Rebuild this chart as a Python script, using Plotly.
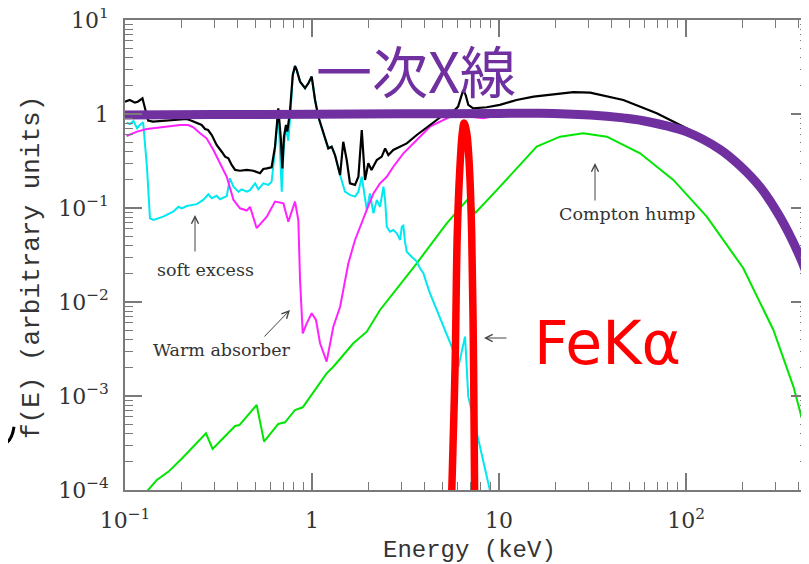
import plotly.graph_objects as go

# ---------------- data (energy in keV, f(E) arbitrary units) ----------------
total_E = [0.100, 0.106, 0.113, 0.117, 0.124, 0.128, 0.133, 0.141, 0.174, 0.214,
           0.227, 0.242, 0.257, 0.268, 0.278, 0.291, 0.309, 0.329, 0.343, 0.357,
           0.372, 0.388, 0.412, 0.448, 0.485, 0.527, 0.549, 0.573, 0.608, 0.634,
           0.660, 0.681, 0.694, 0.708, 0.726, 0.738, 0.762, 0.789, 0.811, 0.828,
           0.863, 0.918, 0.956, 0.996, 1.038, 1.081, 1.149, 1.222, 1.274, 1.327,
           1.413, 1.469, 1.533, 1.596, 1.698, 1.770, 1.845, 1.880, 1.920, 2.00,
           2.08, 2.22, 2.36, 2.46, 2.56, 2.72, 2.96, 3.21, 3.63, 4.27,
           5.04, 5.47, 6.04, 6.31, 6.44, 6.63, 6.85, 7.28, 8.59, 10.1,
           12.4, 15.3, 21.2, 25.0, 30.7, 46.2, 69.7, 105, 140, 158,
           195, 249, 318, 407, 455, 500]
total_f = [1.35, 1.41, 1.32, 1.35, 1.47, 1.16, 0.849, 0.829, 0.863, 0.885,
           0.849, 0.796, 0.764, 0.692, 0.676, 0.598, 0.468, 0.397, 0.352, 0.338,
           0.287, 0.254, 0.249, 0.254, 0.249, 0.234, 0.260, 0.264, 0.271, 0.449,
           1.15, 0.551, 0.264, 0.574, 0.764, 0.649, 1.06, 2.60, 3.24, 2.94,
           2.21, 1.88, 2.12, 2.50, 1.41, 0.935, 0.623, 0.431, 0.449, 0.366,
           0.224, 0.507, 0.324, 0.183, 0.176, 0.215, 0.676, 0.352, 0.199, 0.299,
           0.254, 0.324, 0.352, 0.431, 0.366, 0.414, 0.449, 0.487, 0.598, 0.764,
           0.976, 0.976, 1.20, 1.59, 1.80, 1.59, 1.25, 1.15, 1.18, 1.25,
           1.41, 1.53, 1.66, 1.71, 1.69, 1.41, 1.02, 0.676, 0.487, 0.414,
           0.28, 0.167, 0.080, 0.030, 0.017, 0.0105]

soft_E = [0.102, 0.106, 0.111, 0.116, 0.120, 0.125, 0.131, 0.136, 0.142, 0.160,
          0.181, 0.193, 0.201, 0.214, 0.242, 0.262, 0.279, 0.291, 0.309, 0.322,
          0.350, 0.364, 0.380, 0.404, 0.421, 0.448, 0.466, 0.496, 0.516, 0.549,
          0.584, 0.608, 0.634, 0.660, 0.689, 0.703, 0.723, 0.747, 0.769, 0.789,
          0.811, 0.828, 0.863, 0.918, 0.956, 0.996, 1.038, 1.081, 1.149, 1.222,
          1.274, 1.327, 1.413, 1.500, 1.596, 1.698, 1.770, 1.845, 1.962, 2.04,
          2.13, 2.22, 2.31, 2.41, 2.46, 2.51, 2.61, 2.72, 2.84, 2.96,
          3.02, 3.08, 3.14, 3.21, 3.41, 3.63, 3.78, 3.94, 4.10, 4.27,
          5.59, 6.06, 6.58, 6.85, 7.91, 8.95, 9.3]
soft_f = [0.808, 0.783, 0.843, 0.705, 0.764, 0.817, 0.275, 0.0776, 0.0745, 0.0808,
          0.0914, 0.103, 0.0993, 0.105, 0.110, 0.122, 0.140, 0.127, 0.135, 0.124,
          0.134, 0.207, 0.169, 0.149, 0.158, 0.149, 0.155, 0.183, 0.158, 0.183,
          0.176, 0.190, 0.414, 1.10, 0.149, 0.382, 0.733, 0.52, 1.10, 2.60,
          3.24, 2.94, 2.21, 1.88, 2.12, 2.50, 1.41, 0.935, 0.623, 0.431,
          0.449, 0.366, 0.224, 0.149, 0.138, 0.132, 0.149, 0.215, 0.0953, 0.143,
          0.0879, 0.122, 0.103, 0.169, 0.122, 0.0632, 0.0560, 0.0583, 0.0538, 0.0457,
          0.0632, 0.065, 0.0438, 0.0343, 0.0303, 0.0269, 0.0229, 0.0202, 0.0158, 0.0124,
          0.00334, 0.00205, 0.00428, 0.000984, 0.000289, 0.0001, 0.00007]

absorbed_E = [0.102, 0.116, 0.131, 0.160, 0.197, 0.218, 0.232, 0.252, 0.273, 0.297,
              0.322, 0.350, 0.380, 0.412, 0.448, 0.466, 0.506, 0.573, 0.634, 0.703,
              0.747, 0.811, 0.845, 0.863, 0.892, 0.937, 0.996, 1.050, 1.104, 1.197,
              1.300, 1.413, 1.564, 1.698, 1.962, 2.13, 2.31, 2.51, 2.72, 3.08,
              3.63, 4.27, 5.47, 6.5, 8.25, 10.1, 16.6, 30]
absorbed_f = [0.584, 0.649, 0.692, 0.733, 0.764, 0.764, 0.722, 0.623, 0.551, 0.414,
              0.299, 0.215, 0.122, 0.0993, 0.094, 0.103, 0.061, 0.0808, 0.117, 0.112,
              0.0715, 0.117, 0.0745, 0.0171, 0.00464, 0.00593, 0.00758, 0.00644, 0.00364, 0.00232,
              0.00546, 0.00891, 0.0258, 0.0457, 0.0953, 0.143, 0.183, 0.215, 0.275, 0.382,
              0.529, 0.733, 0.935, 0.95, 0.899, 0.976, 1.0, 0.97]

reflect_E = [0.120, 0.133, 0.148, 0.171, 0.201, 0.271, 0.294, 0.322, 0.388, 0.409,
             0.506, 0.554, 0.660, 0.717, 0.811, 0.892, 0.996, 1.197, 1.300, 1.663,
             1.962, 2.31, 3.63, 5.25, 7.00, 7.44, 9.72, 15.9, 21.2, 28.2,
             37.7, 56.8, 85.5, 129, 202, 293, 375, 442, 480]
reflect_f = [0.000084, 0.0001, 0.000128, 0.000157, 0.000215, 0.000401, 0.000273, 0.000327, 0.000480, 0.000491,
             0.000802, 0.000327, 0.000504, 0.000525, 0.000710, 0.000758, 0.00103, 0.00174, 0.00205, 0.00364,
             0.00483, 0.00822, 0.0258, 0.0687, 0.132, 0.0879, 0.155, 0.449, 0.574, 0.623,
             0.574, 0.382, 0.199, 0.0808, 0.023, 0.00504, 0.00126, 0.000369, 0.00017]

primary_E = [0.1, 0.3, 1, 3, 10, 16.6, 30.7, 46.2, 56.8, 100, 152, 195, 249, 318, 407, 455, 500]
primary_f = [0.976, 0.985, 0.995, 1.005, 1.015, 1.02, 0.976, 0.91, 0.86, 0.65, 0.42, 0.28, 0.167, 0.080, 0.030, 0.017, 0.0105]

feka_E = [5.40, 5.47, 5.59, 5.82, 5.98, 6.18, 6.36, 6.50, 6.72, 6.94, 7.14, 7.31, 7.40, 7.53, 7.58]
feka_f = [6.8e-6, 1.63e-5, 1e-4, 2.05e-3, 0.0538, 0.275, 0.624, 0.80, 0.624, 0.275, 0.0538, 2.05e-3, 1e-4, 1.63e-5, 6.8e-6]

x_tickvals = [0.1, 1, 10, 100]
x_ticktext = ["10<sup>−1</sup>", "1", "10", "10<sup>2</sup>"]
y_tickvals = [1e-4, 1e-3, 1e-2, 1e-1, 1, 10]
y_ticktext = ["10<sup>−4</sup>", "10<sup>−3</sup>", "10<sup>−2</sup>", "10<sup>−1</sup>", "1", "10<sup>1</sup>"]

# ---------------- figure ----------------
fig = go.Figure()

def line(xs, ys, color, width, shape="linear"):
    fig.add_trace(go.Scatter(x=xs, y=ys, mode="lines",
                             line=dict(color=color, width=width, shape=shape),
                             hoverinfo="skip"))

line(reflect_E, reflect_f, "#00e600", 2)
line(soft_E, soft_f, "#00e8f0", 2)
line(absorbed_E, absorbed_f, "#ff22ff", 2)
line(total_E, total_f, "#000000", 2.2)
line(primary_E, primary_f, "#7030a0", 9, shape="spline")
line(feka_E, feka_f, "#ff0000", 7.5, shape="spline")

axcol = "#7a7a7a"
tickfont = dict(family="DejaVu Serif", size=22, color="#333333")
minor_x = [m * 10.0 ** d for d in range(-1, 3) for m in range(2, 10)]
minor_y = [m * 10.0 ** d for d in range(-4, 1) for m in range(2, 10)]

common = dict(type="log", showgrid=False, zeroline=False, showline=True,
              linecolor=axcol, linewidth=1.5, mirror="ticks", ticks="inside",
              ticklen=17, tickwidth=1.5, tickcolor=axcol, tickfont=tickfont,
              ticklabelstandoff=10, automargin=False, ticklabeloverflow="allow")

# the page body adds an 8 px offset; the figure is sized to fill the rest of the window
fig.update_layout(
    width=801, height=556,
    margin=dict(l=117, r=1, t=12, b=74),
    paper_bgcolor="white", plot_bgcolor="white",
    showlegend=False,
    xaxis=dict(range=[-1, 2.652],
               tickmode="array", tickvals=x_tickvals, ticktext=x_ticktext,
               minor=dict(ticks="inside", ticklen=8, tickwidth=1.2, tickcolor=axcol,
                          tickmode="array", tickvals=minor_x),
               **common),
    yaxis=dict(range=[-4, 1],
               tickmode="array", tickvals=y_tickvals, ticktext=y_ticktext,
               minor=dict(ticks="inside", ticklen=8, tickwidth=1.2, tickcolor=axcol,
                          tickmode="array", tickvals=minor_y),
               **common),
)

def px(xp):
    return (xp - 125) / 683

def py(yp):
    return (490 - yp) / 470

serif = dict(family="DejaVu Serif", size=17.5, color="#333333")
ann = []
ann.append(dict(text="f(E) (arbitrary units)", x=px(32), y=py(268), textangle=-90,
                font=dict(family="Liberation Mono", size=26, color="#333333")))
ann.append(dict(text="Energy (keV)", x=px(469), y=py(550),
                font=dict(family="Liberation Mono", size=24, color="#333333")))
ann.append(dict(text="一次X線", x=px(416), y=py(68),
                font=dict(family="Noto Sans CJK JP", size=56, color="#7030a0")))
ann.append(dict(text="FeKα", x=px(607), y=py(343),
                font=dict(family="DejaVu Sans", size=60, color="#ff0000")))
ann.append(dict(text="Compton hump", x=px(627), y=py(214), font=serif))
ann.append(dict(text="soft excess", x=px(205), y=py(270), font=serif))
ann.append(dict(text="Warm absorber", x=px(221), y=py(350), font=serif))
for a in ann:
    a.update(xref="paper", yref="paper", showarrow=False, xanchor="center", yanchor="middle")

arrows = [
    (595, 163, 0, 39),
    (195, 215, 0, 38),
    (290, 310, -27, 28),
    (484, 338, 24, 0),
]
for hx, hy, dx, dy in arrows:
    ann.append(dict(text="", x=px(hx), y=py(hy), xref="paper", yref="paper",
                    showarrow=True, ax=dx, ay=dy, arrowhead=5, arrowsize=1.4,
                    arrowwidth=1, arrowcolor="#444444"))
fig.update_layout(annotations=ann)

# small leftover stroke at the left edge of the slide
fig.add_shape(type="path", xref="paper", yref="paper",
              path=f"M {px(14)},{py(426.7)} Q {px(12)},{py(441)} {px(4)},{py(444)}",
              line=dict(color="black", width=3))

fig.write_html("out.html")
